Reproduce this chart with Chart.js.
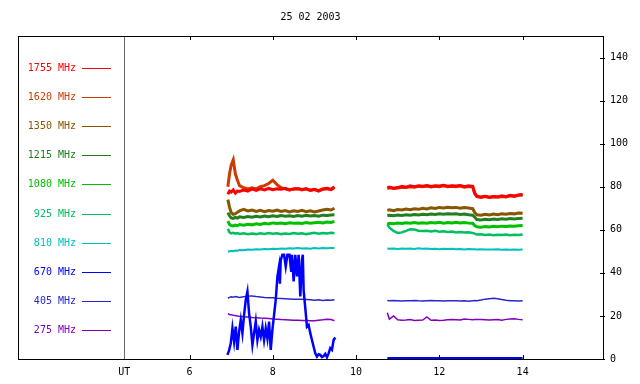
<!DOCTYPE html>
<html>
<head>
<meta charset="utf-8">
<script src="https://cdn.jsdelivr.net/npm/chart.js@4"></script>
<style>
  html, body { margin: 0; padding: 0; background: #fff; }
  canvas { display: block; }
</style>
</head>
<body>
<canvas id="radioChart" width="640" height="384"></canvas>
<script>

// DATA

const chartTitle = '25 02 2003';

// shared UT times (hours), null gap between the two observing runs
const utTimes = [
  6.92, 6.96, 7.0, 7.05, 7.1, 7.15, 7.2, 7.3, 7.4, 7.5, 7.6, 7.7, 7.8, 7.9, 8.0,
  8.1, 8.2, 8.3, 8.4, 8.5, 8.6, 8.7, 8.8, 8.9, 9.0, 9.1, 9.2, 9.3, 9.4, 9.48,
  10.1,
  10.75, 10.8, 10.9, 11.0, 11.1, 11.2, 11.3, 11.4, 11.5, 11.6, 11.7, 11.8, 11.9,
  12.0, 12.1, 12.2, 12.3, 12.4, 12.5, 12.6, 12.7, 12.8, 12.85, 12.9, 13.0, 13.1,
  13.2, 13.3, 13.4, 13.5, 13.6, 13.7, 13.8, 13.9, 14.0
];

const mhz1755 = [
  76.5, 78, 77.5, 78.5, 77, 78, 77.8, 78.5, 78, 79, 78.3, 79, 78.5, 79.2, 78.6,
  79, 78.8, 79.3, 78.5, 79, 79.2, 78.7, 79, 78.4, 78.8, 78.2, 79, 79.3, 78.8, 80,
  null,
  79.5, 79.8, 79.3, 79.6, 80.2, 79.8, 80.4, 80, 80.5, 80.2, 80.6, 80.1, 80.5,
  80.3, 80.7, 80.2, 80.5, 80.3, 80.6, 80, 80.4, 80.2, 77, 75.6, 75.2, 75.6,
  75.1, 75.5, 75.3, 75.8, 75.4, 76, 75.7, 76.2, 76.4
];

const mhz1620 = [
  80, 86, 90, 92.5, 86, 83, 80.5, 79.5, 79, 79.5, 79, 80, 80.5, 81.5, 83,
  81, 79.5, 79, 78.5, 79, 79, 78.5, 79, 78.3, 78.7, 78, 78.8, 79, 78.6, 79.5,
  null,
  79.2, 79.5, 79.2, 79.4, 79.8, 79.6, 80, 79.8, 80.2, 80, 80.3, 79.9, 80.2,
  80, 80.4, 80, 80.2, 80, 80.3, 79.8, 80.1, 80, 76.8, 75.4, 75, 75.4,
  75, 75.3, 75.1, 75.5, 75.2, 75.8, 75.5, 76, 76.2
];

const mhz1350 = [
  74, 70.5, 68, 67.2, 67.5, 68.2, 68.8, 69.5, 68.8, 69.2, 68.5, 69, 68.4, 68.9, 68.6,
  69.2, 68.5, 68.9, 68.3, 68.8, 68.5, 69, 68.4, 68.8, 68.3, 68.7, 69.2, 69.5, 69.2, 70,
  null,
  69, 69.3, 68.9, 69.4, 69.2, 69.6, 69.3, 69.8, 69.5, 70, 69.7, 70.2, 69.9,
  70.4, 70.1, 70.5, 70.2, 70.4, 70, 70.3, 70.1, 69.8, 68, 67, 66.8, 67.2,
  66.9, 67.3, 67, 67.4, 67.2, 67.6, 67.4, 67.8, 67.7
];

const mhz1215 = [
  68, 66.5, 65.5, 65.3, 65.8, 65.4, 66, 65.7, 66.2, 65.8, 66.3, 66, 66.4, 66.1, 66.5,
  66.2, 66.6, 66.3, 66.5, 66.2, 66.6, 66.3, 66.7, 66.4, 66.6, 66.3, 66.8, 66.6, 66.9, 67,
  null,
  66.6, 66.8, 66.5, 66.9, 66.7, 67, 66.8, 67.1, 66.9, 67.2, 67, 67.3, 67.1,
  67.4, 67.2, 67.5, 67.3, 67.4, 67.1, 67.3, 67, 66.8, 65.8, 64.8, 64.6, 64.9,
  64.7, 65, 64.8, 65.1, 64.9, 65.2, 65, 65.3, 65.4
];

const mhz1080 = [
  64, 62.5, 62, 61.8, 62.2, 61.9, 62.4, 62.1, 62.6, 62.3, 62.8, 62.5, 63, 62.7, 63.2,
  62.9, 63.1, 62.8, 63.3, 63, 63.2, 62.9, 63.4, 63.1, 63.3, 63.5, 63.2, 63.6, 63.4, 63.9,
  null,
  62.5, 63, 62.8, 63.2, 62.9, 63.3, 63, 63.4, 63.1, 63.3, 63, 63.4, 63.2,
  63.5, 63.1, 63.4, 63.2, 63.5, 63.2, 63.4, 63.1, 63, 62, 61.4, 61.2, 61.5,
  61.3, 61.6, 61.4, 61.7, 61.5, 61.8, 61.6, 61.9, 62
];

const mhz925 = [
  60.5, 58.8, 58.3, 58.6, 58.2, 58.5, 58.1, 58.4, 57.9, 58.3, 58, 58.4, 58.1, 58.5, 58.2,
  58.4, 58, 58.3, 58.1, 58.5, 58.2, 58.4, 58, 58.3, 58.6, 58.2, 58.5, 58.3, 58.6, 58.4,
  null,
  62.5, 61, 59.5, 58.5, 58.8, 59.5, 60.3, 60.1, 59.6, 59.4, 59.6, 59.2, 59.5,
  59.1, 59.3, 59, 59.2, 58.8, 59, 58.7, 58.9, 58.5, 58.2, 57.8, 57.9, 57.6,
  57.8, 57.5, 57.7, 57.6, 57.8, 57.5, 57.7, 57.6, 57.8
];

const mhz810 = [
  49.8, 50, 50.2, 50.1, 50.4, 50.3, 50.6, 50.5, 50.8, 50.7, 51, 50.9, 51.1, 51, 51.2,
  51.1, 51.3, 51.2, 51.4, 51.3, 51.5, 51.3, 51.4, 51.2, 51.5, 51.3, 51.5, 51.4, 51.6, 51.5,
  null,
  51.3, 51.2, 51.3, 51.1, 51.3, 51.2, 51.3, 51.1, 51.4, 51.2, 51.3, 51.1, 51.2,
  51, 51.2, 51.1, 51.2, 51, 51.1, 50.9, 51.1, 51, 51, 50.9, 51, 50.8,
  50.9, 50.8, 51, 50.7, 50.8, 50.7, 50.8, 50.7, 50.8
];

const mhz405 = [
  28.2, 28.6, 28.9, 28.7, 29, 28.8, 28.6, 28.9, 29.2, 29.3, 29, 28.8, 28.6, 28.5, 28.4,
  28.2, 28.1, 28, 27.9, 27.8, 27.8, 27.7, 27.6, 27.5, 27.3, 27.5, 27.2, 27.4, 27.3, 27.5,
  null,
  27.2, 27, 27.2, 27.1, 26.9, 27.1, 27, 27.2, 27, 26.9, 27.1, 27.2, 27,
  27.1, 26.9, 27, 27.1, 27, 26.9, 27, 26.8, 27, 27.2, 27.1, 27.4, 27.8,
  28, 28.2, 28, 27.6, 27.3, 27.1, 27, 26.9, 27
];

const mhz275 = [
  21, 20.7, 20.5, 20.3, 20.2, 20, 19.8, 19.6, 19.5, 19.3, 19.2, 19, 18.9, 18.8, 18.6,
  18.5, 18.3, 18.2, 18.1, 18, 18, 17.9, 17.9, 17.8, 17.8, 18, 18.2, 18.5, 18.3, 17.8,
  null,
  21.5, 18.5, 20, 18.2, 18, 18.1, 18.3, 17.9, 18, 18.1, 19.5, 18, 18.1,
  17.9, 18, 18.2, 18.3, 18.2, 18.1, 18.6, 18.4, 18.2, 18.3, 18.4, 18.3, 18.2,
  18.1, 18.2, 18.3, 18, 18.4, 18.6, 18.7, 18.4, 18.2
];

// 670 MHz is much noisier, so it has its own time samples
const blueTimes = [
  6.91, 6.95, 6.99, 7.03, 7.07, 7.11, 7.15, 7.19, 7.23, 7.27, 7.31, 7.35, 7.39,
  7.43, 7.47, 7.51, 7.55, 7.59, 7.63, 7.67, 7.71, 7.75, 7.79, 7.83, 7.87, 7.91,
  7.95, 7.99, 8.03, 8.07, 8.11, 8.15, 8.17, 8.19, 8.23, 8.27, 8.31, 8.35, 8.40,
  8.44, 8.46, 8.50, 8.54, 8.58, 8.62, 8.66, 8.70, 8.72, 8.74, 8.78, 8.82, 8.86,
  8.90, 8.94, 8.98, 9.02, 9.06, 9.10, 9.14, 9.18, 9.22, 9.26, 9.30, 9.34, 9.38,
  9.42, 9.46, 9.50,
  10.1,
  10.75, 11.5, 12.5, 13.5, 14.0
];

const mhz670 = [
  1.9, 4, 7.3, 14.3, 8, 15, 4.2, 12.7, 18.1, 12, 20.5, 27.4, 31.3,
  21.2, 15, 6.5, 12, 17.4, 8.8, 13.5, 10.4, 15, 8.8, 14.3, 9.6, 17.4,
  4.2, 13.5, 20.5, 27.4, 38.3, 43, 35, 46, 48.4, 48.4, 43, 48.4, 48.4,
  41, 48.4, 36, 48.4, 38.3, 48.4, 29, 46, 48.4, 32, 23.6, 15, 15.8,
  12, 8.8, 5.7, 2.6, 1.1, 2.2, 1.9, 0.9, 1.4, 2.4, 0.8, 2.6, 5,
  4.2, 8.8, 10,
  null,
  0.4, 0.4, 0.4, 0.4, 0.4
];

const seriesLabels = ['1755 MHz', '1620 MHz', '1350 MHz', '1215 MHz', '1080 MHz',
  '925 MHz', '810 MHz', '670 MHz', '405 MHz', '275 MHz'];
const seriesColors = ['#ff0000', '#cc3c00', '#885500', '#208020', '#00c000',
  '#00bf60', '#00c0c0', '#0000ff', '#2828c8', '#8000c0'];

const xTicks = [4.43, 6, 8, 10, 12, 14];
const xTickLabels = ['UT', '6', '8', '10', '12', '14'];
const yTicks = [0, 20, 40, 60, 80, 100, 120, 140];

// BUILD DATASETS

function points(times, values){
  return times.map((t, i) => ({ x: t, y: values[i] }));
}

const seriesValues = [mhz1755, mhz1620, mhz1350, mhz1215, mhz1080,
  mhz925, mhz810, mhz670, mhz405, mhz275];
const lineWidths = [3, 3, 3, 3, 3, 2.5, 2, 2.5, 1.5, 1.5];

const datasets = seriesValues.map((vals, i) => ({
  label: seriesLabels[i],
  data: vals === mhz670 ? points(blueTimes, vals) : points(utTimes, vals),
  borderColor: seriesColors[i],
  borderWidth: lineWidths[i],
  pointRadius: 0,
  tension: 0,
  spanGaps: false
}));

const monoFont = { family: 'DejaVu Sans Mono', size: 10 };

// FRAME, TICKS, TITLE AND LEGEND

const framePlugin = {
  id: 'frame',
  afterDraw(chart){
    const c = chart.ctx;
    const a = chart.chartArea;
    const xs = chart.scales.x;
    const ys = chart.scales.y;

    c.save();

    // grey UT divider
    const ux = Math.round(xs.getPixelForValue(xTicks[0])) + 0.5;
    c.strokeStyle = '#666';
    c.lineWidth = 1;
    c.beginPath();
    c.moveTo(ux, a.top);
    c.lineTo(ux, a.bottom);
    c.stroke();

    // border
    c.strokeStyle = '#000';
    c.strokeRect(Math.round(a.left) + 0.5, Math.round(a.top) + 0.5,
      Math.round(a.right - a.left), Math.round(a.bottom - a.top));

    // x tick marks top and bottom
    c.beginPath();
    xTicks.slice(1).forEach(v => {
      const px = Math.round(xs.getPixelForValue(v)) + 0.5;
      c.moveTo(px, a.bottom);
      c.lineTo(px, a.bottom - 4);
      c.moveTo(px, a.top);
      c.lineTo(px, a.top + 4);
    });

    // y tick marks on the right axis
    yTicks.forEach(v => {
      const py = Math.round(ys.getPixelForValue(v)) + 0.5;
      c.moveTo(a.right - 3, py);
      c.lineTo(a.right + 2, py);
    });
    c.stroke();

    // title
    c.font = '10px "DejaVu Sans Mono"';
    c.fillStyle = '#000';
    c.textAlign = 'center';
    c.textBaseline = 'middle';
    c.fillText(chartTitle, (a.left + a.right) / 2, 17);

    // legend
    c.textAlign = 'right';
    chart.data.datasets.forEach((ds, i) => {
      const ly = Math.round(a.top + 31.7 + i * 29.17) + 0.5;
      c.fillStyle = ds.borderColor;
      c.fillText(ds.label, a.left + 58, ly);
      c.strokeStyle = ds.borderColor;
      c.lineWidth = 1;
      c.beginPath();
      c.moveTo(a.left + 64, ly);
      c.lineTo(a.left + 93, ly);
      c.stroke();
    });

    c.restore();
  }
};

// CHART

const ctx = document.getElementById('radioChart');

const radioChart = new Chart(ctx, {
  type: 'line',
  data: { datasets: datasets },
  options: {
    responsive: false,
    animation: false,
    layout: { padding: { left: 18, top: 36, right: 0, bottom: 0 } },
    plugins: {
      legend: { display: false },
      title: { display: false },
      tooltip: { enabled: false }
    },
    scales: {
      x: {
        type: 'linear',
        position: 'bottom',
        min: 1.88,
        max: 15.93,
        grid: { display: false, drawTicks: false },
        border: { display: false },
        afterBuildTicks(scale){
          scale.ticks = xTicks.map(v => ({ value: v }));
        },
        afterFit(scale){
          scale.height = 25;
        },
        ticks: {
          autoSkip: false,
          maxRotation: 0,
          padding: 7,
          color: '#000',
          font: monoFont,
          callback: (v, i) => xTickLabels[i]
        }
      },
      y: {
        position: 'right',
        min: 0,
        max: 150,
        grid: { display: false, drawTicks: false },
        border: { display: false },
        afterBuildTicks(scale){
          scale.ticks = yTicks.map(v => ({ value: v }));
        },
        afterFit(scale){
          scale.width = 37;
        },
        ticks: {
          padding: 7,
          color: '#000',
          font: monoFont
        }
      }
    }
  },
  plugins: [framePlugin]
});

</script>
</body>
</html>
